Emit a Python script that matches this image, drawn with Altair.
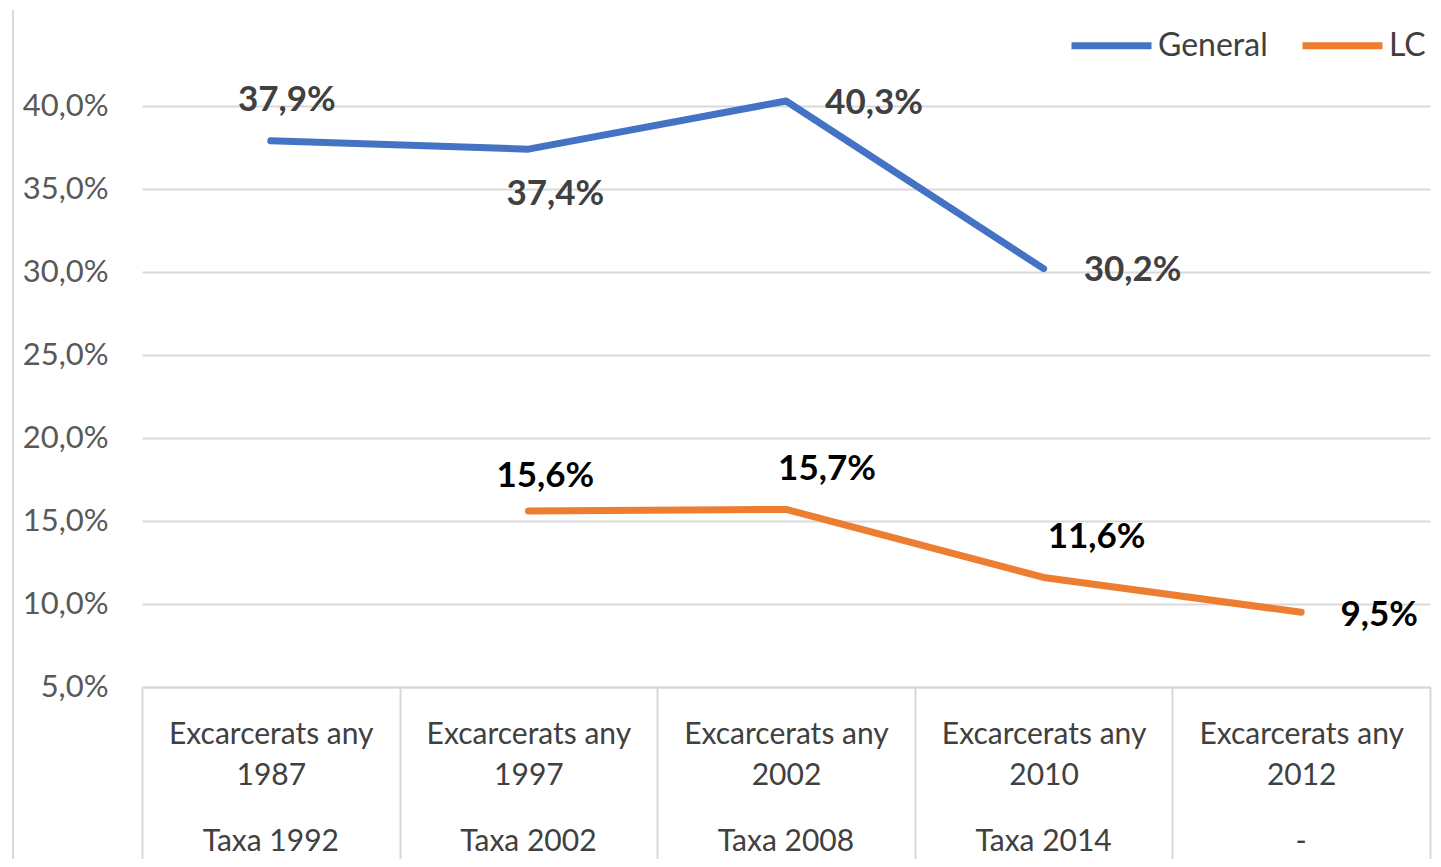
import altair as alt
import pandas as pd

categories = [
    "Excarcerats any|1987",
    "Excarcerats any|1997",
    "Excarcerats any|2002",
    "Excarcerats any|2010",
    "Excarcerats any|2012",
]
taxa_labels = ["Taxa 1992", "Taxa 2002", "Taxa 2008", "Taxa 2014", "-"]
series_names = ["General", "LC"]
general_values = [0.379, 0.374, 0.403, 0.302, None]
lc_values = [None, 0.156, 0.157, 0.116, 0.095]
y_ticks = [0.05, 0.10, 0.15, 0.20, 0.25, 0.30, 0.35, 0.40]

rows = []
for name, vals in zip(series_names, [general_values, lc_values]):
    for i, (c, v) in enumerate(zip(categories, vals)):
        if v is not None:
            rows.append({"serie": name, "cat": c, "idx": i, "value": v})
df = pd.DataFrame(rows)
df_taxa = pd.DataFrame({"cat": categories, "taxa": taxa_labels})

FONT = "Lato"
GRID = "#d9d9d9"

x_scale = alt.Scale(type="band", paddingInner=0, paddingOuter=0, domain=categories)

x_enc = alt.X(
    "cat:N",
    sort=categories,
    bandPosition=0.5,
    scale=x_scale,
    axis=alt.Axis(
        title=None,
        labelExpr="split(datum.label, '|')",
        labelFont=FONT,
        labelFontSize=30,
        labelColor="#404040",
        labelLineHeight=41,
        labelPadding=-168,
        labelLimit=0,
        labelOverlap=False,
        labelBound=False,
        labelAngle=0,
        tickBand="extent",
        tickSize=200,
        tickColor=GRID,
        tickWidth=2,
        domainColor=GRID,
        domainWidth=2,
        grid=False,
    ),
)
y_enc = alt.Y(
    "value:Q",
    scale=alt.Scale(domain=[0.05, 0.45], nice=False, zero=False),
    axis=alt.Axis(
        title=None,
        values=y_ticks,
        labelExpr="replace(format(datum.value, '.1%'), '.', ',')",
        labelFont=FONT,
        labelFontSize=31,
        labelColor="#595959",
        labelPadding=34,
        ticks=False,
        domain=False,
        gridColor=GRID,
        gridWidth=2,
    ),
)
color_enc = alt.Color(
    "serie:N",
    scale=alt.Scale(domain=series_names, range=["#4472C4", "#ED7D31"]),
    legend=alt.Legend(
        title=None,
        orient="none",
        legendX=926,
        legendY=-21,
        direction="horizontal",
        symbolType="stroke",
        symbolSize=6400,
        symbolStrokeWidth=7,
        labelFont=FONT,
        labelFontSize=32,
        labelColor="#404040",
        labelOffset=3,
        columnPadding=20,
    ),
)

base = alt.Chart(df).encode(x=x_enc, y=y_enc)

lines = base.mark_line(strokeWidth=7, strokeCap="round", strokeJoin="round").encode(
    color=color_enc
)

# label placement (dx, dy) per point
placements = [
    ("General", 0, 16, -41, "#404040"),
    ("General", 1, 27, 45, "#404040"),
    ("General", 2, 88, 2, "#404040"),
    ("General", 3, 89, 1, "#404040"),
    ("LC", 1, 17, -35, "#000000"),
    ("LC", 2, 41, -40, "#000000"),
    ("LC", 3, 53, -40, "#000000"),
    ("LC", 4, 78, 3, "#000000"),
]
texts = []
for s, i, dx, dy, col in placements:
    t = (
        base.mark_text(
            font=FONT, fontSize=35, fontWeight="bold", dx=dx, dy=dy,
            align="center", baseline="middle", color=col,
        )
        .transform_filter(f"datum.serie == '{s}' && datum.idx == {i}")
        .transform_calculate(lab="replace(format(datum.value, '.1%'), '.', ',')")
        .encode(text="lab:N")
    )
    texts.append(t)

taxa = alt.Chart(df_taxa).mark_text(
    font=FONT, fontSize=30, color="#404040", align="center", baseline="middle"
).encode(
    x=alt.X("cat:N", sort=categories, bandPosition=0.5, scale=x_scale),
    y=alt.value(819),
    text="taxa:N",
)

border = alt.Chart(pd.DataFrame({"a": [0]})).mark_rule(color=GRID, strokeWidth=2).encode(
    x=alt.value(-129), y=alt.value(-13), y2=alt.value(900)
)

chart = (
    alt.layer(lines, *texts, taxa, border)
    .properties(
        width=1288,
        height=664,
        background="white",
        autosize=alt.AutoSizeParams(type="none"),
        padding={"left": 134, "top": 15, "right": 3, "bottom": 172},
    )
    .configure_view(stroke=None)
)

chart.save("out.html", embed_options={"renderer": "svg", "actions": False})
